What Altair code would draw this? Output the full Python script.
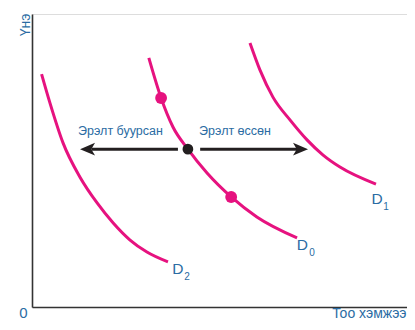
import altair as alt
import pandas as pd

# Demand curves (quantity, price) in chart units
d2_q = [0.25, 0.47, 0.81, 1.25, 1.70, 2.12, 2.56, 3.00, 3.55]
d2_p = [7.99, 7.02, 5.69, 4.55, 3.68, 3.01, 2.44, 2.04, 1.71]
d0_q = [3.05, 3.37, 3.68, 4.07, 4.57, 5.20, 5.87, 6.92]
d0_p = [8.53, 7.19, 6.22, 5.48, 4.68, 3.88, 3.21, 2.51]
d1_q = [5.69, 5.95, 6.29, 6.74, 7.18, 7.60, 8.04, 8.98]
d1_p = [9.03, 8.13, 7.22, 6.45, 5.79, 5.28, 4.88, 4.31]

# Points on D0
pink_q = [3.37, 5.20]
pink_p = [7.19, 3.88]
black_q = [4.07]
black_p = [5.48]

# Arrows: shaft start, shaft end, head centre, level
arrow_from = [3.81, 4.39]
arrow_to = [1.55, 6.95]
arrow_head = [1.45, 7.01]
arrow_level = [5.48, 5.48]

# Texts
shift_text = ["Эрэлт буурсан", "Эрэлт өссөн"]
shift_q = [2.31, 5.30]
shift_p = [5.97, 5.97]
curve_name = ["D", "D", "D"]
curve_name_q = [3.81, 7.06, 9.01]
curve_name_p = [1.47, 2.26, 3.80]
curve_sub = ["2", "0", "1"]
curve_sub_q = [4.05, 7.31, 9.24]
curve_sub_p = [1.20, 2.01, 3.53]

MAGENTA = "#e6127f"
BLUE = "#2b6ca3"
DARK = "#231f20"
SANS = "Liberation Sans, Arial, Helvetica"

curves = pd.concat([
    pd.DataFrame({"q": d2_q, "p": d2_p, "curve": "D2", "o": range(len(d2_q))}),
    pd.DataFrame({"q": d0_q, "p": d0_p, "curve": "D0", "o": range(len(d0_q))}),
    pd.DataFrame({"q": d1_q, "p": d1_p, "curve": "D1", "o": range(len(d1_q))}),
])

xs = alt.Scale(domain=[0, 9.79], nice=False, zero=False)
ys = alt.Scale(domain=[0.201, 10], nice=False, zero=False)

x_axis = alt.Axis(
    title="Тоо хэмжээ", values=[0.0], ticks=False, tickSize=0, grid=False,
    domainColor="#333333", domainWidth=1.6,
    labelFont=SANS, labelFontSize=15, labelColor=BLUE, labelAlign="right",
    labelBaseline="alphabetic", labelPadding=10, labelOffset=-5, labelFlush=False,
    titleFont=SANS, titleFontSize=14, titleFontWeight="normal", titleColor=BLUE,
    titleAnchor="end", titleAlign="right", titleBaseline="alphabetic",
    titleX=374, titleY=10,
)
y_axis = alt.Axis(
    title="Үнэ", ticks=False, labels=False, grid=False,
    domainColor="#333333", domainWidth=1.6,
    titleFont=SANS, titleFontSize=14, titleFontWeight="normal", titleColor=BLUE,
    titleAnchor="end", titleAngle=-90, titleAlign="right", titleBaseline="alphabetic",
    titleX=-3, titleY=-1,
)

lines = alt.Chart(curves).mark_line(
    interpolate="monotone", color=MAGENTA, strokeWidth=3
).encode(
    x=alt.X("q:Q", scale=xs, axis=x_axis),
    y=alt.Y("p:Q", scale=ys, axis=y_axis),
    detail="curve:N",
    order="o:Q",
)

pts = alt.Chart(pd.DataFrame({"q": pink_q, "p": pink_p})).mark_point(
    shape="circle", filled=True, opacity=1, color=MAGENTA, size=140
).encode(x=alt.X("q:Q", scale=xs), y=alt.Y("p:Q", scale=ys))

bpt = alt.Chart(pd.DataFrame({"q": black_q, "p": black_p})).mark_point(
    shape="circle", filled=True, opacity=1, color=DARK, size=115
).encode(x=alt.X("q:Q", scale=xs), y=alt.Y("p:Q", scale=ys))

arrows_df = pd.DataFrame({
    "q1": arrow_from, "q2": arrow_to, "h": arrow_head, "p": arrow_level,
    "dir": ["left", "right"],
})
shafts = alt.Chart(arrows_df).mark_rule(color=DARK, strokeWidth=3).encode(
    x=alt.X("q1:Q", scale=xs), x2="q2:Q", y=alt.Y("p:Q", scale=ys)
)
head_l = alt.Chart(arrows_df[arrows_df.dir == "left"]).mark_point(
    shape="M-1,0 L1,-0.85 L0.5,0 L1,0.85 Z", filled=True, opacity=1,
    color=DARK, size=225,
).encode(x=alt.X("h:Q", scale=xs), y=alt.Y("p:Q", scale=ys))
head_r = alt.Chart(arrows_df[arrows_df.dir == "right"]).mark_point(
    shape="M1,0 L-1,-0.85 L-0.5,0 L-1,0.85 Z", filled=True, opacity=1,
    color=DARK, size=225,
).encode(x=alt.X("h:Q", scale=xs), y=alt.Y("p:Q", scale=ys))

shift_lbl = alt.Chart(pd.DataFrame({"t": shift_text, "q": shift_q, "p": shift_p})).mark_text(
    font=SANS, fontSize=12.5, color=BLUE, align="center", baseline="alphabetic"
).encode(x=alt.X("q:Q", scale=xs), y=alt.Y("p:Q", scale=ys), text="t:N")

name_lbl = alt.Chart(pd.DataFrame({"t": curve_name, "q": curve_name_q, "p": curve_name_p})).mark_text(
    font=SANS, fontSize=15.5, color=BLUE, align="center", baseline="middle"
).encode(x=alt.X("q:Q", scale=xs), y=alt.Y("p:Q", scale=ys), text="t:N")

sub_lbl = alt.Chart(pd.DataFrame({"t": curve_sub, "q": curve_sub_q, "p": curve_sub_p})).mark_text(
    font=SANS, fontSize=10, color=BLUE, align="center", baseline="middle"
).encode(x=alt.X("q:Q", scale=xs), y=alt.Y("p:Q", scale=ys), text="t:N")

chart = alt.layer(
    lines, shafts, head_l, head_r, pts, bpt, shift_lbl, name_lbl, sub_lbl
).properties(
    width=375, height=293,
    autosize=alt.AutoSizeParams(type="none"),
    padding={"left": 24, "top": 6, "right": 0, "bottom": 14},
).configure_view(strokeWidth=0).configure(background="white")

chart.save("out.html", embed_options={"renderer": "svg", "actions": False})
